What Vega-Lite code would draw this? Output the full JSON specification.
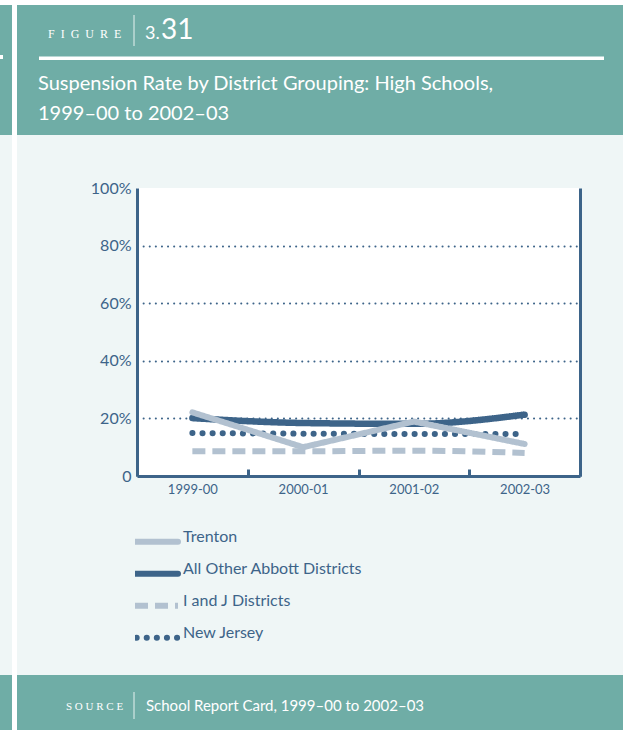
{
  "$schema": "https://vega.github.io/schema/vega-lite/v6.json",
  "width": 443,
  "height": 288,
  "autosize": {"type": "none"},
  "padding": {"left": 137, "top": 188, "right": 48, "bottom": 254},
  "background": "#eff6f6",
  "config": {"view": {"fill": "white", "stroke": null}, "font": "Lato"},
  "layer": [
    {"data": {"values": [{}]}, "mark": {"type": "rect", "color": "#6fada6"}, "encoding": {"x": {"value": -137}, "x2": {"value": 486}, "y": {"value": -183}, "y2": {"value": -53}}},
    {"data": {"values": [{}]}, "mark": {"type": "rect", "color": "#6fada6"}, "encoding": {"x": {"value": -137}, "x2": {"value": 486}, "y": {"value": 487}, "y2": {"value": 542}}},
    {"data": {"values": [{}]}, "mark": {"type": "rect", "color": "white"}, "encoding": {"x": {"value": -137}, "x2": {"value": 491}, "y": {"value": -188}, "y2": {"value": -183}}},
    {"data": {"values": [{}]}, "mark": {"type": "rect", "color": "white"}, "encoding": {"x": {"value": -125}, "x2": {"value": -120}, "y": {"value": -188}, "y2": {"value": 542}}},
    {"data": {"values": [{}]}, "mark": {"type": "rect", "color": "white"}, "encoding": {"x": {"value": 486}, "x2": {"value": 491}, "y": {"value": -188}, "y2": {"value": 542}}},
    {"data": {"values": [{}]}, "mark": {"type": "rect", "color": "white"}, "encoding": {"x": {"value": -137}, "x2": {"value": -134}, "y": {"value": -133}, "y2": {"value": -129}}},
    {"data": {"values": [{}]}, "mark": {"type": "rule", "color": "white", "strokeWidth": 3.5}, "encoding": {"x": {"value": -98}, "x2": {"value": 467}, "y": {"value": -129.8}}},
    {"data": {"values": [{}]}, "mark": {"type": "rule", "color": "#d3e7e4", "strokeWidth": 1.2}, "encoding": {"x": {"value": -3}, "y": {"value": -173}, "y2": {"value": -142}}},
    {"data": {"values": [{}]}, "mark": {"type": "rule", "color": "#d3e7e4", "strokeWidth": 1.2}, "encoding": {"x": {"value": -3}, "y": {"value": 504}, "y2": {"value": 531}}},
    {"data": {"values": [{}]}, "mark": {"type": "text", "text": "F\u2002I\u2002G\u2002U\u2002R\u2002E", "font": "Liberation Serif", "fontSize": 12, "color": "white", "align": "left", "baseline": "alphabetic"}, "encoding": {"x": {"value": -89}, "y": {"value": -150}}},
    {"data": {"values": [{}]}, "mark": {"type": "text", "text": "3.", "font": "Lato", "fontSize": 18, "color": "white", "align": "left", "baseline": "alphabetic"}, "encoding": {"x": {"value": 8}, "y": {"value": -149}}},
    {"data": {"values": [{}]}, "mark": {"type": "text", "text": "31", "font": "Lato", "fontSize": 28, "color": "white", "align": "left", "baseline": "alphabetic"}, "encoding": {"x": {"value": 24}, "y": {"value": -149}}},
    {"data": {"values": [{}]}, "mark": {"type": "text", "text": "Suspension Rate by District Grouping: High Schools,", "font": "Lato", "fontSize": 20, "color": "white", "align": "left", "baseline": "alphabetic"}, "encoding": {"x": {"value": -99}, "y": {"value": -98}}},
    {"data": {"values": [{}]}, "mark": {"type": "text", "text": "1999–00 to 2002–03", "font": "Lato", "fontSize": 20, "color": "white", "align": "left", "baseline": "alphabetic"}, "encoding": {"x": {"value": -99}, "y": {"value": -68}}},
    {"data": {"values": [{}]}, "mark": {"type": "text", "text": "S O U R C E", "font": "Liberation Serif", "fontSize": 11, "color": "white", "align": "left", "baseline": "alphabetic"}, "encoding": {"x": {"value": -71}, "y": {"value": 522}}},
    {"data": {"values": [{}]}, "mark": {"type": "text", "text": "School Report Card, 1999–00 to 2002–03", "font": "Lato", "fontSize": 15, "color": "white", "align": "left", "baseline": "alphabetic"}, "encoding": {"x": {"value": 9}, "y": {"value": 523}}},
    {
      "data": {"values": [
        {"series": "Trenton", "year": "1999-00", "value": 22.1},
        {"series": "Trenton", "year": "2000-01", "value": 10.0},
        {"series": "Trenton", "year": "2001-02", "value": 18.9},
        {"series": "Trenton", "year": "2002-03", "value": 11.1},
        {"series": "All Other Abbott Districts", "year": "1999-00", "value": 20.1},
        {"series": "All Other Abbott Districts", "year": "2000-01", "value": 18.4},
        {"series": "All Other Abbott Districts", "year": "2001-02", "value": 18.1},
        {"series": "All Other Abbott Districts", "year": "2002-03", "value": 21.3},
        {"series": "I and J Districts", "year": "1999-00", "value": 8.6},
        {"series": "I and J Districts", "year": "2000-01", "value": 8.6},
        {"series": "I and J Districts", "year": "2001-02", "value": 8.8},
        {"series": "I and J Districts", "year": "2002-03", "value": 8.0},
        {"series": "New Jersey", "year": "1999-00", "value": 14.9},
        {"series": "New Jersey", "year": "2000-01", "value": 14.7},
        {"series": "New Jersey", "year": "2001-02", "value": 14.6},
        {"series": "New Jersey", "year": "2002-03", "value": 14.6}
      ]},
      "resolve": {"axis": {"y": "independent"}},
      "encoding": {
        "x": {"field": "year", "type": "nominal", "bandPosition": 0.5,
          "scale": {"type": "band", "paddingInner": 0, "paddingOuter": 0, "domain": ["1999-00", "2000-01", "2001-02", "2002-03"]},
          "axis": {"title": null, "labelAngle": 0, "labelFont": "Lato", "labelFontSize": 13, "labelColor": "#3d6489", "labelPadding": 14, "domainColor": "#3d6489", "domainWidth": 3, "tickColor": "#3d6489", "tickWidth": 3, "tickSize": -7, "tickBand": "extent", "grid": false}},
        "color": {"field": "series", "type": "nominal",
          "scale": {"domain": ["Trenton", "All Other Abbott Districts", "I and J Districts", "New Jersey"], "range": ["#b2c1d0", "#3d6489", "#b2c1d0", "#3d6489"]},
          "legend": {"title": null, "orient": "none", "legendX": -2, "legendY": 338, "symbolType": "stroke", "symbolSize": 1849, "symbolStrokeWidth": 6, "symbolOffset": -3, "clipHeight": 31.5, "labelFont": "Lato", "labelFontSize": 16, "labelColor": "#3d6489", "labelOffset": 2, "labelLimit": 400, "labelBaseline": "alphabetic", "rowPadding": 0, "padding": 0,
            "encoding": {"symbols": {
              "strokeCap": {"condition": {"test": "datum.value === 'I and J Districts'", "value": "butt"}, "value": "round"},
              "strokeDash": {"condition": [{"test": "datum.value === 'I and J Districts'", "value": [17, 10]}, {"test": "datum.value === 'New Jersey'", "value": [0.1, 11.4]}], "value": [1, 0]},
              "strokeDashOffset": {"condition": {"test": "datum.value === 'New Jersey'", "value": 8.5}, "value": 0}
            }}}},
        "strokeDash": {"field": "series", "type": "nominal",
          "scale": {"domain": ["Trenton", "All Other Abbott Districts", "I and J Districts", "New Jersey"], "range": [[1, 0], [1, 0], [13, 7], [0.1, 10]]},
          "legend": {"title": null, "orient": "none", "legendX": -2, "legendY": 338, "symbolType": "stroke", "symbolSize": 1849, "symbolStrokeWidth": 6, "symbolOffset": -3, "clipHeight": 31.5, "labelFont": "Lato", "labelFontSize": 16, "labelColor": "#3d6489", "labelOffset": 2, "labelLimit": 400, "labelBaseline": "alphabetic", "rowPadding": 0, "padding": 0,
            "encoding": {"symbols": {
              "strokeCap": {"condition": {"test": "datum.value === 'I and J Districts'", "value": "butt"}, "value": "round"},
              "strokeDash": {"condition": [{"test": "datum.value === 'I and J Districts'", "value": [17, 10]}, {"test": "datum.value === 'New Jersey'", "value": [0.1, 11.4]}], "value": [1, 0]},
              "strokeDashOffset": {"condition": {"test": "datum.value === 'New Jersey'", "value": 8.5}, "value": 0}
            }}}}
      },
      "layer": [
        {"transform": [{"filter": "datum.series === 'New Jersey'"}],
         "mark": {"type": "line", "interpolate": "monotone", "strokeWidth": 6, "strokeCap": "round"},
         "encoding": {"y": {"field": "value", "type": "quantitative", "scale": {"domain": [0, 100], "nice": false},
           "axis": {"title": null, "values": [0, 20, 40, 60, 80, 100], "labelExpr": "datum.value === 0 ? '0' : datum.value + '%'", "ticks": false, "labelPadding": 6, "labelFont": "Lato", "labelFontSize": 16, "labelColor": "#3d6489", "domainColor": "#3d6489", "domainWidth": 3, "grid": true, "gridColor": "#3d6489", "gridWidth": 2, "gridDash": [0.1, 6], "gridCap": "round",
             "gridOpacity": {"condition": {"test": "datum.value === 0 || datum.value === 100", "value": 0}, "value": 1}}}}},
        {"transform": [{"filter": "datum.series === 'I and J Districts'"}],
         "mark": {"type": "line", "interpolate": "monotone", "strokeWidth": 6, "strokeCap": "butt"},
         "encoding": {"y": {"field": "value", "type": "quantitative", "axis": null}}},
        {"transform": [{"filter": "datum.series === 'All Other Abbott Districts'"}],
         "mark": {"type": "line", "interpolate": "monotone", "strokeWidth": 6.5, "strokeCap": "round"},
         "encoding": {"y": {"field": "value", "type": "quantitative", "axis": null}}},
        {"transform": [{"filter": "datum.series === 'Trenton'"}],
         "mark": {"type": "line", "strokeWidth": 6, "strokeCap": "round"},
         "encoding": {"y": {"field": "value", "type": "quantitative",
           "axis": {"title": null, "orient": "right", "labels": false, "ticks": false, "grid": false, "domainColor": "#3d6489", "domainWidth": 3}}}}
      ]
    }
  ]
}
